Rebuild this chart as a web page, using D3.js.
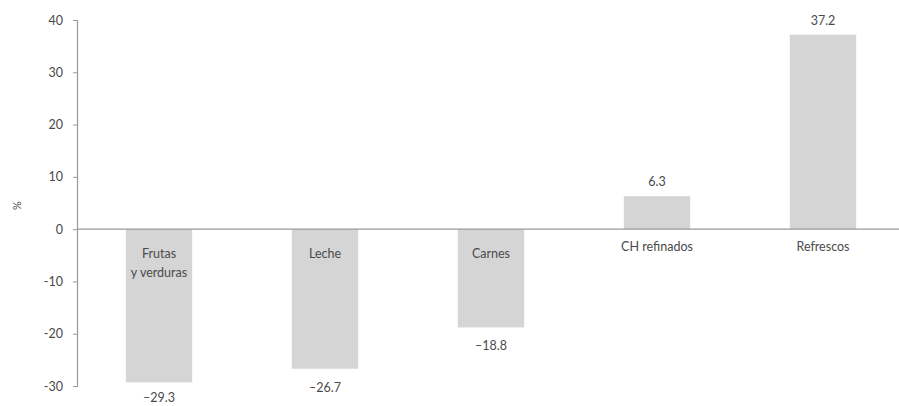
<!DOCTYPE html>
<html>
<head>
<meta charset="utf-8">
<script src="https://cdn.jsdelivr.net/npm/d3@7"></script>
<style>
  html, body { margin: 0; padding: 0; background: #fff; }
  svg { display: block; }
  text { font-family: Lato, "Open Sans", sans-serif; fill: #4a4a4a; }
</style>
</head>
<body>
<svg id="chart" width="899" height="406"></svg>
<script>
// Categories (line breaks marked with \n) and % change values
const categories = ["Frutas\ny verduras", "Leche", "Carnes", "CH refinados", "Refrescos"];
const values = [-29.3, -26.7, -18.8, 6.3, 37.2];
const valueLabels = ["\u201329.3", "\u201326.7", "\u201318.8", "6.3", "37.2"];
const yTicks = [40, 30, 20, 10, 0, -10, -20, -30];

const svg = d3.select("#chart");
const axisX = 77;

const y = d3.scaleLinear().domain([-30, 40]).range([386, 20]);
const x = d3.scaleBand().domain(d3.range(categories.length)).range([76, 906]).paddingInner(0.6).paddingOuter(0.3);

const data = categories.map((c, i) => ({ c, v: values[i], label: valueLabels[i], i }));

// Bars
svg.append("g").selectAll("rect").data(data).join("rect")
  .attr("x", d => x(d.i))
  .attr("width", x.bandwidth())
  .attr("y", d => y(Math.max(0, d.v)))
  .attr("height", d => Math.abs(y(d.v) - y(0)))
  .attr("fill", "#d5d5d5");

// Zero line across the plot
svg.append("line")
  .attr("x1", axisX).attr("x2", 899)
  .attr("y1", y(0)).attr("y2", y(0))
  .attr("stroke", "#9a9a9a").attr("stroke-width", 1.2);

// Y axis (plain hyphen for negative ticks)
const yAxis = d3.axisLeft(y).tickValues(yTicks).tickSize(4).tickPadding(10).tickFormat(d => String(d));
const gy = svg.append("g").attr("transform", `translate(${axisX},0)`).call(yAxis);
gy.select(".domain").attr("stroke", "#9a9a9a").attr("stroke-width", 1.2);
gy.selectAll(".tick line").attr("stroke", "#9a9a9a");
gy.selectAll(".tick text").attr("font-size", 12.5).attr("fill", "#555")
  .style("font-family", "Lato, 'Open Sans', sans-serif");

// Axis title
svg.append("text")
  .attr("transform", `translate(21,${y(4.5)}) rotate(-90)`)
  .attr("text-anchor", "middle")
  .attr("font-size", 11)
  .text("%");

// Category labels: inside negative bars, below the zero line for positive bars
const cat = svg.append("g").selectAll("text").data(data).join("text")
  .attr("x", d => x(d.i) + x.bandwidth() / 2)
  .attr("y", d => d.v < 0 ? y(0) + 29 : y(0) + 22)
  .attr("text-anchor", "middle")
  .attr("font-size", 12.5);
cat.selectAll("tspan").data(d => d.c.split("\n").map(t => ({ t, x: x(d.i) + x.bandwidth() / 2 }))).join("tspan")
  .attr("x", d => d.x)
  .attr("dy", (d, k) => k === 0 ? 0 : 19)
  .text(d => d.t);

// Value labels
svg.append("g").selectAll("text").data(data).join("text")
  .attr("x", d => x(d.i) + x.bandwidth() / 2)
  .attr("y", d => d.v < 0 ? Math.min(y(d.v) + 23, 402) : y(d.v) - 10)
  .attr("text-anchor", "middle")
  .attr("font-size", 12.5)
  .text(d => d.label);
</script>
</body>
</html>
